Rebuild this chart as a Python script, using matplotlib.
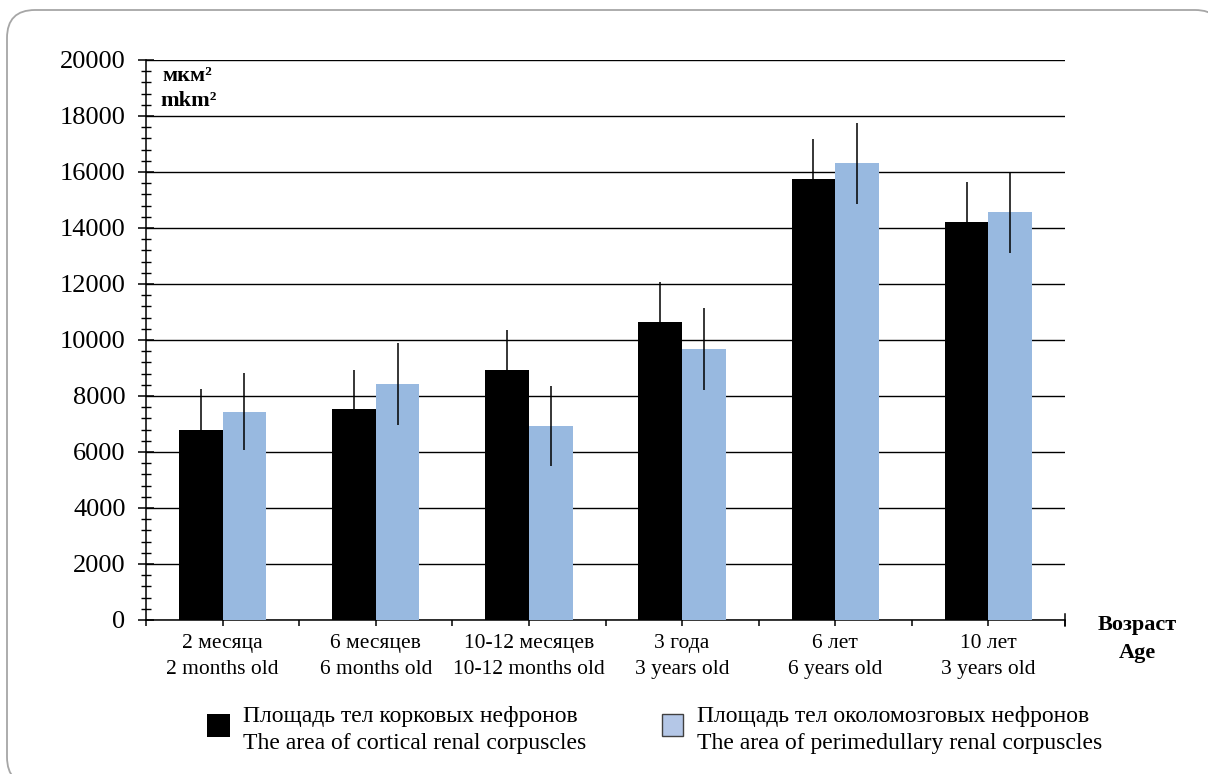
import matplotlib
matplotlib.use("Agg")
import matplotlib.pyplot as plt
from matplotlib.patches import FancyBboxPatch, Rectangle
from matplotlib.ticker import MultipleLocator
import numpy as np

plt.rcParams["font.family"] = ["Liberation Serif", "DejaVu Serif"]

ages = [
    "2 месяца\n2 months old",
    "6 месяцев\n6 months old",
    "10-12 месяцев\n10-12 months old",
    "3 года\n3 years old",
    "6 лет\n6 years old",
    "10 лет\n3 years old",
]
cortical = [6800, 7520, 8930, 10640, 15740, 14210]
cortical_err = [1440, 1410, 1430, 1430, 1430, 1430]
perimedullary = [7440, 8430, 6930, 9680, 16310, 14560]
perimedullary_err = [1380, 1460, 1430, 1450, 1450, 1440]

label_cortical = "Площадь тел корковых нефронов\nThe area of cortical renal corpuscles"
label_perimed = "Площадь тел околомозговых нефронов\nThe area of perimedullary renal corpuscles"

black = "#000000"
blue = "#98B9E0"

W, H = 1208, 774
fig = plt.figure(figsize=(W / 100, H / 100), dpi=100)

# rounded frame around the whole figure, drawn in pixel units
bg = fig.add_axes([0, 0, 1, 1], zorder=-5)
bg.set_xlim(0, W)
bg.set_ylim(H, 0)
bg.axis("off")
bg.add_patch(FancyBboxPatch((7, 10), 1216, 775, boxstyle="round,pad=0,rounding_size=28",
                            fc="white", ec="#a6a6a6", lw=1.3, clip_on=False))

ax = fig.add_axes([146 / W, 1 - 620 / H, (1065 - 146) / W, (620 - 60) / H])
ax.patch.set_alpha(0)

x = np.arange(len(ages))
bw = 0.285
ax.bar(x - bw / 2, cortical, bw, color=black, zorder=3)
ax.bar(x + bw / 2, perimedullary, bw, color=blue, zorder=3)
ax.errorbar(x - bw / 2, cortical, yerr=cortical_err, fmt="none", ecolor="black",
            elinewidth=1.1, capsize=0, zorder=4)
ax.errorbar(x + bw / 2, perimedullary, yerr=perimedullary_err, fmt="none", ecolor="black",
            elinewidth=1.1, capsize=0, zorder=4)

ax.set_xlim(-0.5, len(ages) - 0.5)
ax.set_ylim(0, 20000)

ax.yaxis.set_major_locator(MultipleLocator(2000))
ax.yaxis.set_minor_locator(MultipleLocator(400))
ax.yaxis.grid(True, which="major", color="black", lw=1.0, zorder=0)
ax.tick_params(axis="y", which="major", direction="inout", length=11.5, width=1.1,
               labelsize=19, pad=9)
ax.tick_params(axis="y", which="minor", direction="inout", length=7, width=1.0)

ax.set_xticks(x)
ax.set_xticklabels(ages, fontsize=15.5, linespacing=1.45)
ax.set_xticks(np.arange(-0.5, len(ages), 1.0), minor=True)
ax.tick_params(axis="x", which="both", direction="out", length=4.3, width=1.1, pad=6)

for side in ("top", "right"):
    ax.spines[side].set_visible(False)
ax.spines["left"].set_linewidth(1.1)
ax.spines["bottom"].set_linewidth(1.1)
# end tick of the category axis crosses the line
ax.plot([len(ages) - 0.5] * 2, [-220, 220], color="black", lw=1.1, clip_on=False)

fig.text(162 / W, 1 - 76 / H, "мкм²", fontsize=16, fontweight="bold", va="center")
fig.text(160 / W, 1 - 101 / H, "mkm²", fontsize=16, fontweight="bold", va="center")
fig.text(1137 / W, 1 - 639 / H, "Возраст\nAge", fontsize=16, fontweight="bold",
         ha="center", va="center", linespacing=1.55)

# legend keys
bg.add_patch(Rectangle((207, 714), 23, 23, fc=black, ec="none"))
bg.add_patch(Rectangle((662, 714), 21, 22, fc="#B4C7E7", ec="#404040", lw=1.0))
bg.text(243, 730, label_cortical, fontsize=17, va="center", ha="left", linespacing=1.35)
bg.text(697, 730, label_perimed, fontsize=17, va="center", ha="left", linespacing=1.35)

fig.savefig("out.png", dpi=100)
plt.close(fig)
